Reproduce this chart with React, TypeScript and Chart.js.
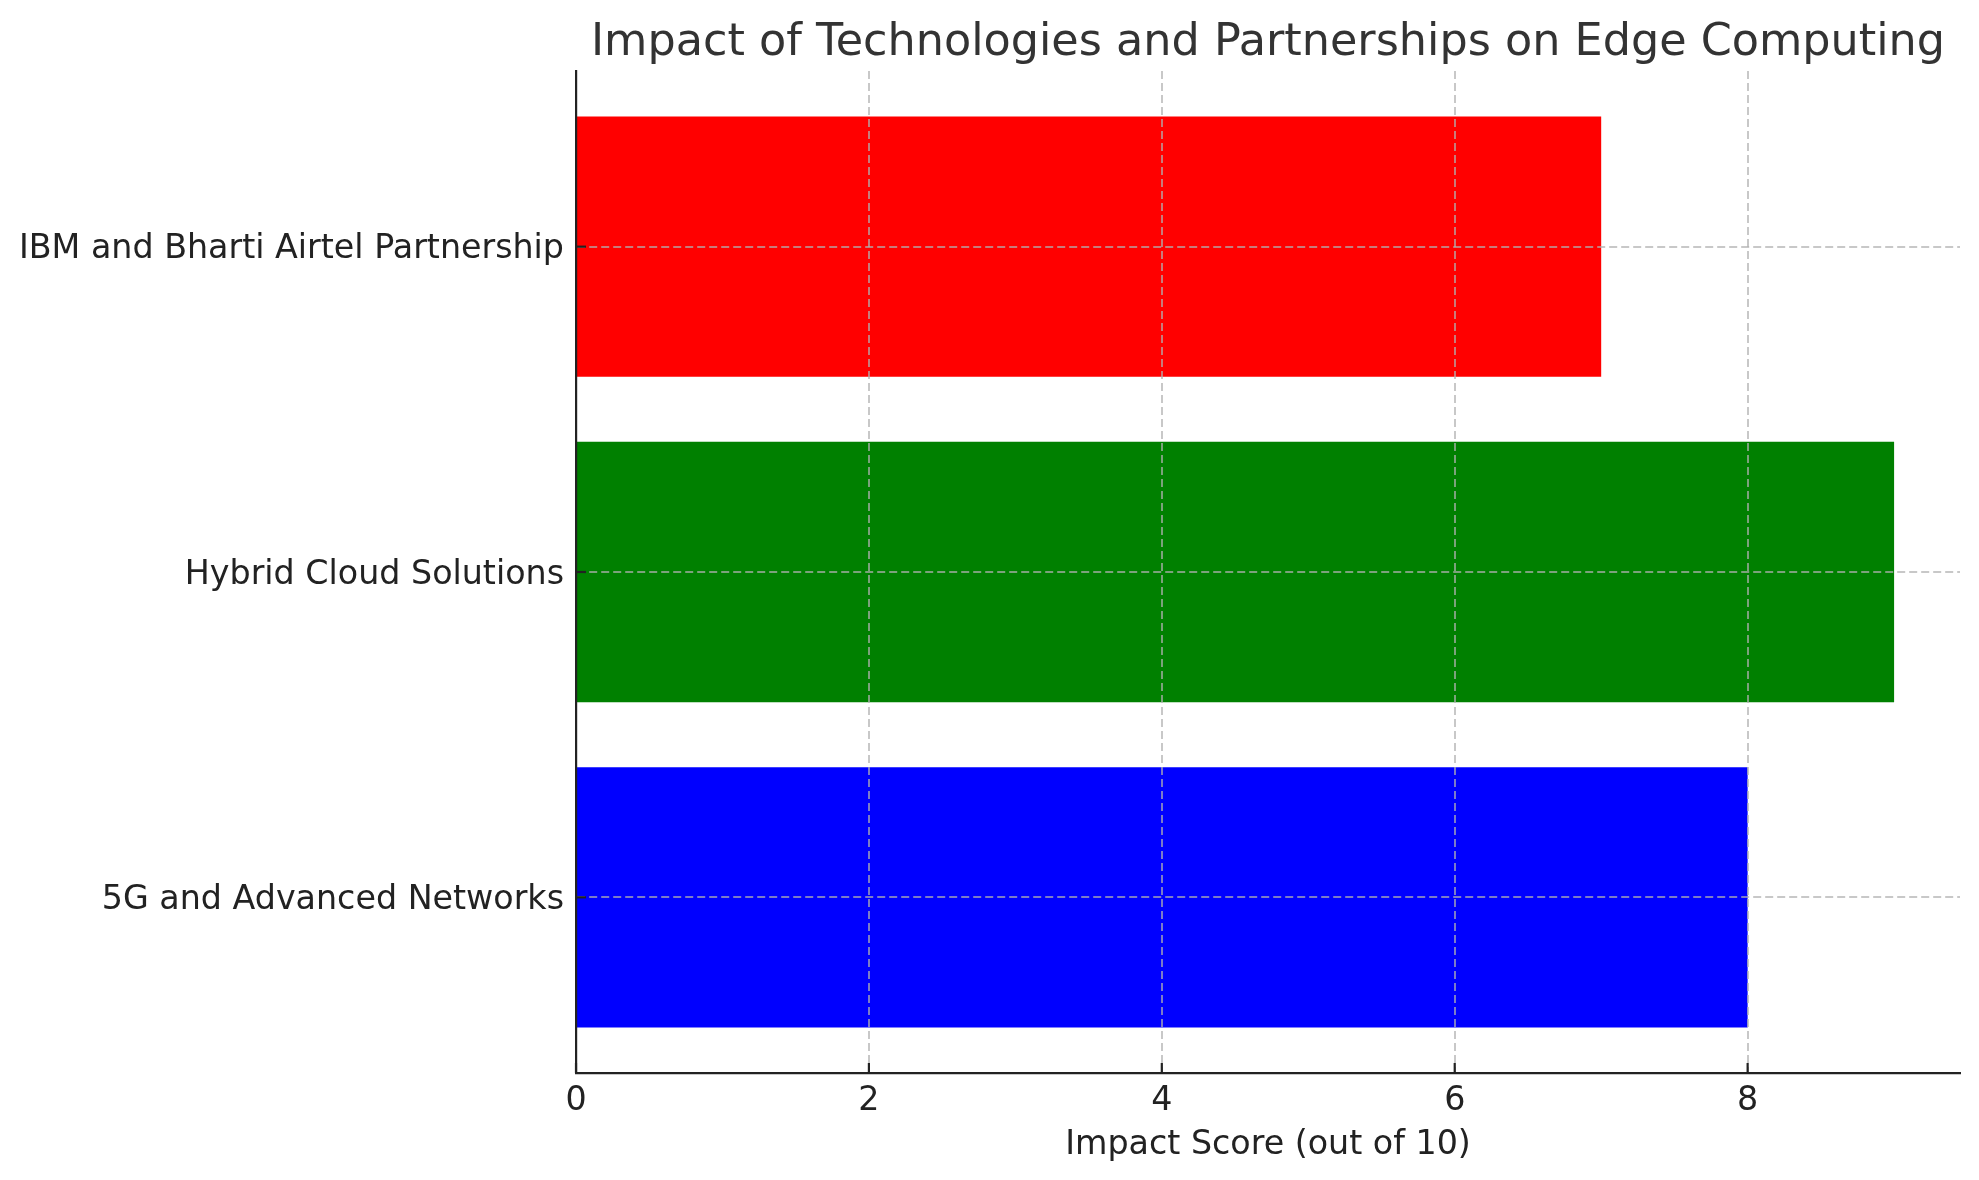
import { useEffect, useRef } from "react";
import { Chart, registerables } from "chart.js";

Chart.register(...registerables);

const categories = [
  "5G and Advanced Networks",
  "Hybrid Cloud Solutions",
  "IBM and Bharti Airtel Partnership",
];
const impactScores = [8, 9, 7];
const barColors = ["#0000ff", "#008000", "#ff0000"];
const xTickStep = 2;

const FONT = "'DejaVu Sans', sans-serif";

// matplotlib-style inward tick marks
const inwardTicks = {
  id: "inwardTicks",
  afterDraw(chart: Chart) {
    const { ctx, chartArea, scales } = chart;
    ctx.save();
    ctx.strokeStyle = "#222";
    ctx.lineWidth = 2.2;
    scales.x.ticks.forEach((t) => {
      const px = scales.x.getPixelForValue(t.value);
      ctx.beginPath();
      ctx.moveTo(px, chartArea.bottom);
      ctx.lineTo(px, chartArea.bottom - 10);
      ctx.stroke();
    });
    scales.y.ticks.forEach((t) => {
      const py = scales.y.getPixelForValue(t.value);
      ctx.beginPath();
      ctx.moveTo(chartArea.left, py);
      ctx.lineTo(chartArea.left + 10, py);
      ctx.stroke();
    });
    ctx.restore();
  },
};

export default function App() {
  const canvasRef = useRef<HTMLCanvasElement | null>(null);

  useEffect(() => {
    if (!canvasRef.current) return;
    const maxX = Math.max(...impactScores) * 1.05;
    const chart = new Chart(canvasRef.current, {
      type: "bar",
      data: {
        datasets: [
          {
            data: impactScores.map((v, i) => ({ x: v, y: i })),
            backgroundColor: barColors,
            borderWidth: 0,
            barPercentage: 0.8,
            categoryPercentage: 1,
          },
        ],
      },
      options: {
        indexAxis: "y",
        responsive: false,
        animation: false,
        devicePixelRatio: 1,
        layout: { padding: { top: 0, left: 0, right: 19, bottom: 0 } },
        plugins: {
          legend: { display: false },
          tooltip: { enabled: false },
          title: {
            display: true,
            fullSize: false,
            text: "Impact of Technologies and Partnerships on Edge Computing",
            color: "#333",
            font: { family: FONT, size: 44.5, weight: "normal" },
            padding: { top: 17, bottom: 0.6 },
          },
        },
        scales: {
          x: {
            type: "linear",
            min: 0,
            max: maxX,
            afterFit: (s) => {
              s.height = 107;
            },
            ticks: {
              stepSize: xTickStep,
              includeBounds: false,
              color: "#222",
              padding: 8,
              font: { family: FONT, size: 33.3 },
            },
            grid: {
              z: 1,
              color: "rgba(176,176,176,0.7)",
              lineWidth: 2,
              drawTicks: false,
            },
            border: { z: 2, color: "#222", width: 2.2, dash: [8, 4] },
            title: {
              display: true,
              text: "Impact Score (out of 10)",
              color: "#222",
              font: { family: FONT, size: 33.3 },
              padding: { top: 0, bottom: 15 },
            },
          },
          y: {
            type: "linear",
            min: -0.54,
            max: 2.54,
            offset: false,
            afterFit: (s) => {
              s.width = 576;
            },
            ticks: {
              stepSize: 1,
              includeBounds: false,
              color: "#222",
              padding: 12,
              labelOffset: 3,
              font: { family: FONT, size: 33.3 },
              callback: (v) => categories[Number(v)] ?? "",
            },
            grid: {
              z: 1,
              offset: false,
              color: "rgba(176,176,176,0.7)",
              lineWidth: 2,
              drawTicks: false,
            },
            border: { z: 2, color: "#222", width: 2.2, dash: [8, 4] },
          },
        },
      },
      plugins: [inwardTicks],
    });
    return () => chart.destroy();
  }, []);

  return (
    <div style={{ position: "absolute", left: 0, top: 0, width: 1979, height: 1180, background: "#fff" }}>
      <canvas ref={canvasRef} width={1979} height={1180} />
    </div>
  );
}
